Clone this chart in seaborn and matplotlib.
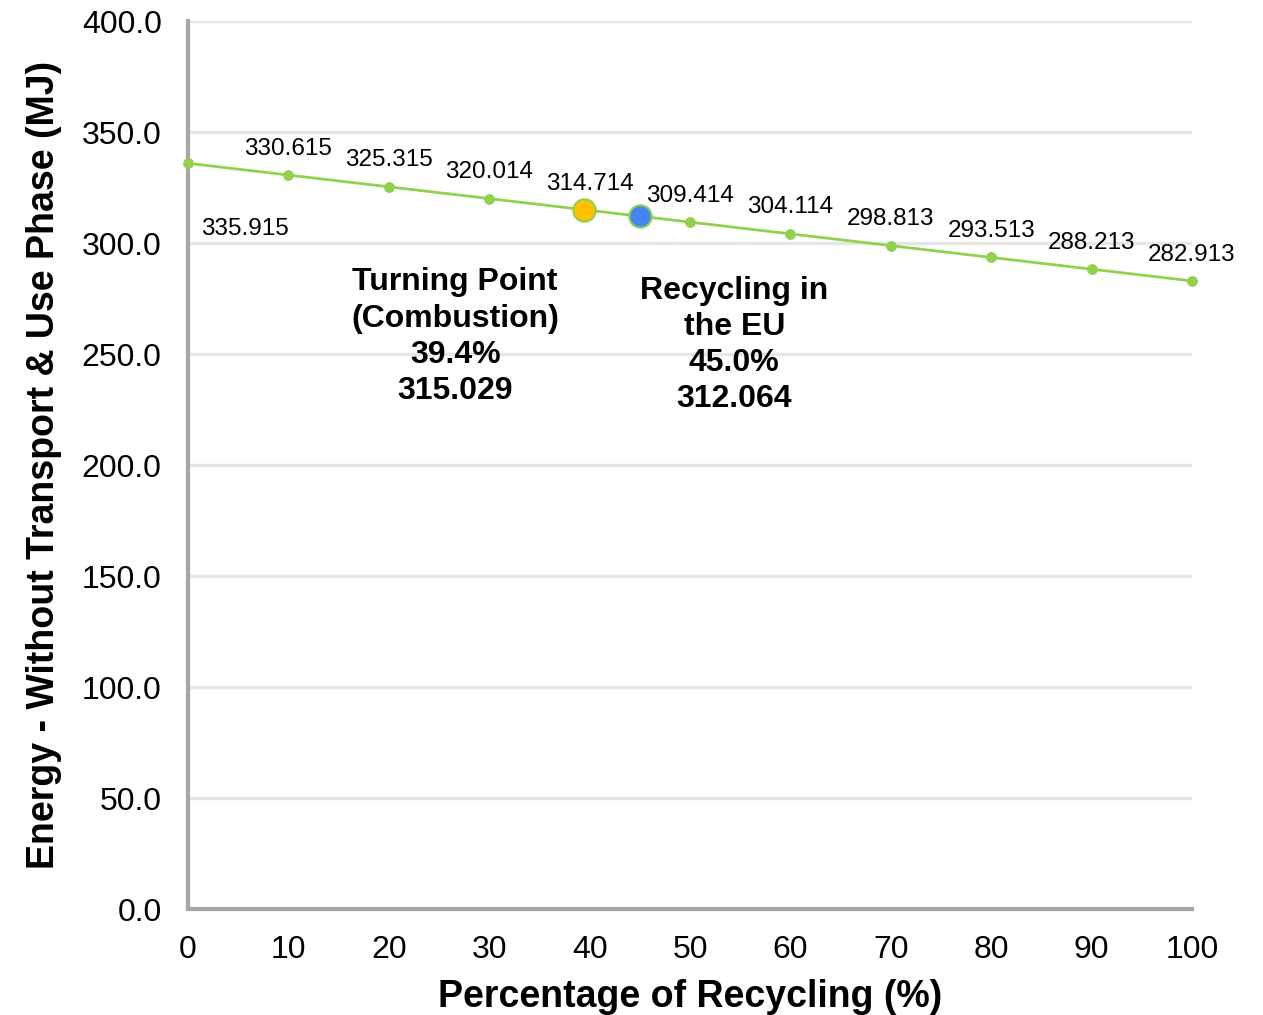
import matplotlib
matplotlib.use("Agg")
import matplotlib.pyplot as plt
import seaborn as sns
import pandas as pd

# data
recycling_pct = [0, 10, 20, 30, 40, 50, 60, 70, 80, 90, 100]
energy_mj = [335.915, 330.615, 325.315, 320.014, 314.714, 309.414,
             304.114, 298.813, 293.513, 288.213, 282.913]
point_labels = ["335.915", "330.615", "325.315", "320.014", "314.714", "309.414",
                "304.114", "298.813", "293.513", "288.213", "282.913"]

turning_x, turning_y = 39.4, 315.029
eu_x, eu_y = 45.0, 312.064
turning_text = "Turning Point\n(Combustion)\n39.4%\n315.029"
eu_text = "Recycling in\nthe EU\n45.0%\n312.064"

yticks = [0, 50, 100, 150, 200, 250, 300, 350, 400]
xticks = [0, 10, 20, 30, 40, 50, 60, 70, 80, 90, 100]

sns.set_style("white")
plt.rcParams['font.family'] = ['Liberation Sans', 'DejaVu Sans']
plt.rcParams['text.color'] = 'black'
plt.rcParams['axes.labelcolor'] = 'black'
plt.rcParams['xtick.color'] = 'black'
plt.rcParams['ytick.color'] = 'black'

df = pd.DataFrame({"pct": recycling_pct, "energy": energy_mj})

fig = plt.figure(figsize=(12.63, 10.15), dpi=100)
ax = fig.add_axes([0.1489, 0.1044, 0.7949, 0.8749])

green = "#92D050"
sns.lineplot(data=df, x="pct", y="energy", color=green, linewidth=2,
             marker="o", markersize=7, markeredgecolor=green, ax=ax, zorder=3,
             clip_on=False)

sns.scatterplot(x=[turning_x], y=[turning_y], color="#FFC000", s=260,
                edgecolor=green, linewidth=1.5, ax=ax, zorder=4)
sns.scatterplot(x=[eu_x], y=[eu_y], color="#4285F4", s=260,
                edgecolor=green, linewidth=1.5, ax=ax, zorder=4)

# value labels
for i, (x, y, t) in enumerate(zip(recycling_pct, energy_mj, point_labels)):
    if i == 0:
        ax.annotate(t, (x, y), xytext=(41, -47), textcoords="offset points",
                    ha="center", va="center", fontsize=17.5)
    else:
        ax.annotate(t, (x, y), xytext=(0, 19), textcoords="offset points",
                    ha="center", va="center", fontsize=17.5)

ax.text(26.6, 289.0, turning_text, ha="center", va="top", fontsize=23,
        fontweight="bold", linespacing=1.27)
ax.text(54.4, 285.3, eu_text, ha="center", va="top", fontsize=23,
        fontweight="bold", linespacing=1.27)

ax.set_xlim(0, 100)
ax.set_ylim(0, 400)
ax.set_xticks(xticks)
ax.set_yticks(yticks)
ax.set_yticklabels([f"{v:.1f}" for v in yticks])
ax.yaxis.grid(True, color="#E6E6E6", linewidth=2.5)
ax.set_axisbelow(True)

for side in ["top", "right"]:
    ax.spines[side].set_visible(False)
for side in ["left", "bottom"]:
    ax.spines[side].set_color("#A6A6A6")
    ax.spines[side].set_linewidth(3)

ax.tick_params(axis="y", length=9, width=2.5, color="#A6A6A6", labelsize=23, pad=10)
ax.tick_params(axis="x", length=0, labelsize=23, pad=19)
ax.spines["bottom"].set_bounds(0, 100)

ax.set_xlabel("Percentage of Recycling (%)", fontsize=27, fontweight="bold", labelpad=10)
ax.set_ylabel("Energy - Without Transport & Use Phase (MJ)", fontsize=27,
              fontweight="bold", labelpad=14)

fig.savefig("out.png", dpi=100)
